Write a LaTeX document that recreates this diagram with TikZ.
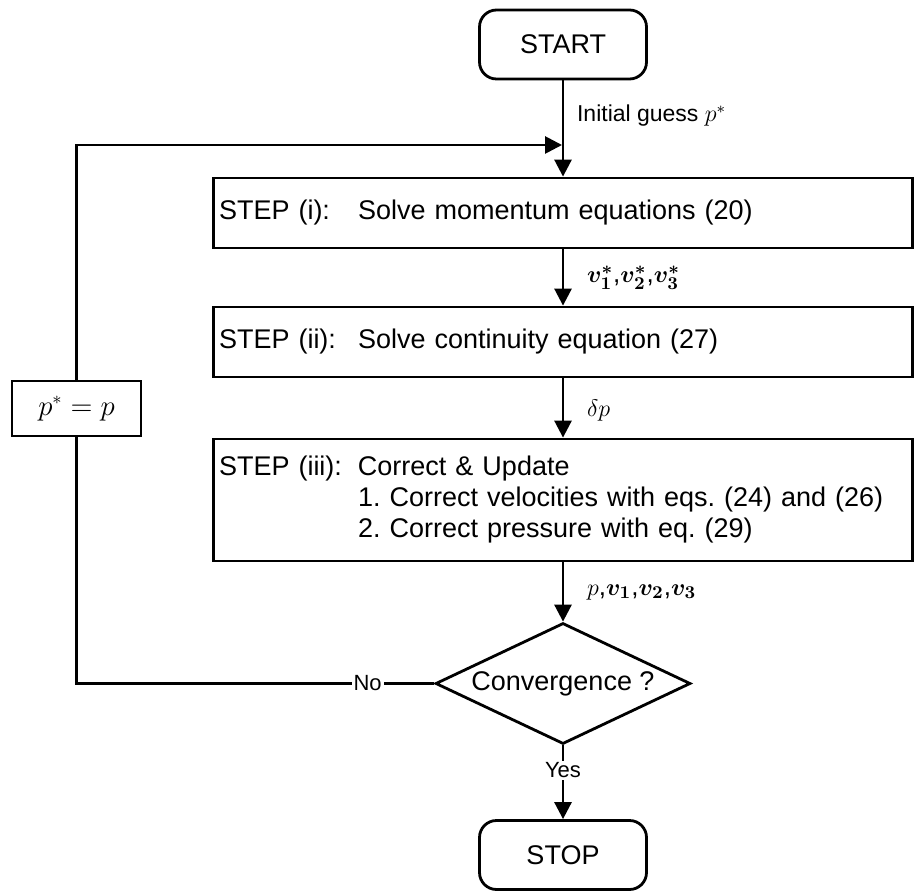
\documentclass[tikz,border=0pt]{standalone}
\usepackage{fontspec}
\setmainfont{Liberation Sans}
\usepackage{amsmath}
\usepackage{bm}
\usetikzlibrary{arrows.meta,shapes.geometric}
\frenchspacing

\newcommand{\steptag}[1]{\makebox[69.5pt][l]{#1}}

\begin{document}
\begin{tikzpicture}[x=0.5pt, y=-0.5pt, line width=1.4pt,
    terminal/.style ={rectangle, draw, rounded corners=8.5pt, minimum width=83.5pt, minimum height=34.5pt, font=\fontsize{13.5}{16}\selectfont},
    stepbox/.style ={rectangle, draw, minimum width=349.5pt, text width=344pt, inner xsep=2.75pt, align=left, font=\fontsize{13.5}{15.5}\selectfont},
    decision/.style ={diamond, draw, aspect=2.1, inner sep=0pt, minimum width=127.5pt, minimum height=60.5pt, font=\fontsize{13.5}{16}\selectfont},
    update/.style ={rectangle, draw, minimum width=64.5pt, minimum height=27.5pt, font=\fontsize{13.5}{16}\selectfont},
    flow/.style ={-{Triangle[length=8.5pt,width=8.5pt]}},
    guesslabel/.style ={right, xshift=3pt, font=\fontsize{11.5}{14}\selectfont},
    mathlabel/.style ={right, xshift=8pt, font=\fontsize{13}{15}\selectfont},
    answer/.style ={fill=white, inner sep=1pt, font=\fontsize{11}{13}\selectfont}]
   \useasboundingbox (0,0) rectangle (914,892);

   \node[terminal] (start) at (563,44.5) {START};
   \node[stepbox, minimum height=35pt] (step1) at (563,213) {\steptag{STEP (i):}Solve momentum equations (20)};
   \node[stepbox, minimum height=35pt] (step2) at (563,342) {\steptag{STEP (ii):}Solve continuity equation (27)};
   \node[stepbox, minimum height=61pt] (step3) at (563,500) {\steptag{STEP (iii):}Correct \& Update\\
      \hspace*{69.5pt}1. Correct velocities with eqs. (24) and (26)\\
      \hspace*{69.5pt}2. Correct pressure with eq. (29)};
   \node[decision] (conv) at (563,683.5) {Convergence ?};
   \node[terminal] (stop) at (563,855) {STOP};
   \node[update] (pset) at (76.5,408.5) {$p^* = p$};
   \coordinate (merge) at (562,145);

   \draw[flow] (start) -- node[guesslabel, pos=0.37] {Initial guess $p^*$} (step1);
   \draw[flow] (step1) -- node[mathlabel] {$\bm{v_1^*}$,$\bm{v_2^*}$,$\bm{v_3^*}$} (step2);
   \draw[flow] (step2) -- node[mathlabel, pos=0.55] {$\delta p$} (step3);
   \draw[flow] (step3) -- node[mathlabel] {$p$,$\bm{v_1}$,$\bm{v_2}$,$\bm{v_3}$} (conv);
   \draw[flow] (conv) -- node[answer, pos=0.34] {Yes} (stop);
   \draw (conv) -- node[answer, pos=0.186] {No} (conv -| pset) -- (pset);
   \draw[flow] (pset) -- (pset |- merge) -- (merge);
 \end{tikzpicture}
\end{document}
